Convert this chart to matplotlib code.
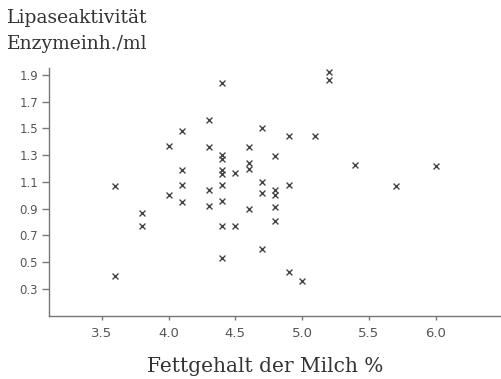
import matplotlib
matplotlib.use("Agg")
import matplotlib.pyplot as plt

# Fettgehalt der Milch (%) und Lipaseaktivitaet (Enzymeinh./ml)
fett = [3.6, 3.6, 3.8, 3.8, 4.0, 4.0,
        4.1, 4.1, 4.1, 4.1,
        4.3, 4.3, 4.3, 4.3,
        4.4, 4.4, 4.4, 4.4, 4.4, 4.4, 4.4, 4.4, 4.4,
        4.5, 4.5,
        4.6, 4.6, 4.6, 4.6,
        4.7, 4.7, 4.7, 4.7,
        4.8, 4.8, 4.8, 4.8, 4.8,
        4.9, 4.9, 4.9,
        5.0, 5.1, 5.2, 5.2, 5.4, 5.7, 6.0]
lipase = [1.07, 0.40, 0.87, 0.77, 1.37, 1.00,
          1.48, 1.19, 1.08, 0.95,
          1.56, 1.36, 1.04, 0.92,
          1.84, 1.30, 1.27, 1.19, 1.16, 1.08, 0.96, 0.77, 0.53,
          1.17, 0.77,
          1.36, 1.24, 1.20, 0.90,
          1.50, 1.10, 1.02, 0.60,
          1.29, 1.04, 1.00, 0.91, 0.81,
          1.44, 1.08, 0.43,
          0.36, 1.44, 1.92, 1.86, 1.23, 1.07, 1.22]

x_ticks = [3.5, 4.0, 4.5, 5.0, 5.5, 6.0]
y_ticks = [0.3, 0.5, 0.7, 0.9, 1.1, 1.3, 1.5, 1.7, 1.9]

grey = "#555555"
serif = ["DejaVu Serif"]

fig = plt.figure(figsize=(5.01, 3.79), dpi=100)
ax = fig.add_axes([0.098, 0.166, 0.902, 0.655])

ax.scatter(fett, lipase, marker="x", s=18, color="#444444", linewidths=1.0)

ax.set_xlim(3.105, 6.49)
ax.set_ylim(0.098, 1.952)
ax.set_xticks(x_ticks)
ax.set_xticklabels([f"{v:.1f}" for v in x_ticks])
ax.set_yticks(y_ticks)
ax.set_yticklabels([f"{v:.1f}" for v in y_ticks])

for side in ["top", "right"]:
    ax.spines[side].set_visible(False)
for side in ["left", "bottom"]:
    ax.spines[side].set_color("#777777")
    ax.spines[side].set_linewidth(1.0)

ax.tick_params(axis="y", direction="out", length=5, width=1.0, color="#777777",
               labelsize=8.5, labelcolor=grey, pad=3)
ax.tick_params(axis="x", direction="out", length=3, width=1.0, color="#777777",
               labelsize=9.5, labelcolor=grey, pad=5)

ax.set_xlabel("Fettgehalt der Milch %", fontsize=14.5, family=serif, color="#333333")
ax.xaxis.set_label_coords(0.479, -0.163)

fig.text(0.014, 0.94, "Lipaseaktivität", fontsize=13.5, family=serif, color="#333333")
fig.text(0.014, 0.87, "Enzymeinh./ml", fontsize=13.5, family=serif, color="#333333")

fig.savefig("out.png", dpi=100)
